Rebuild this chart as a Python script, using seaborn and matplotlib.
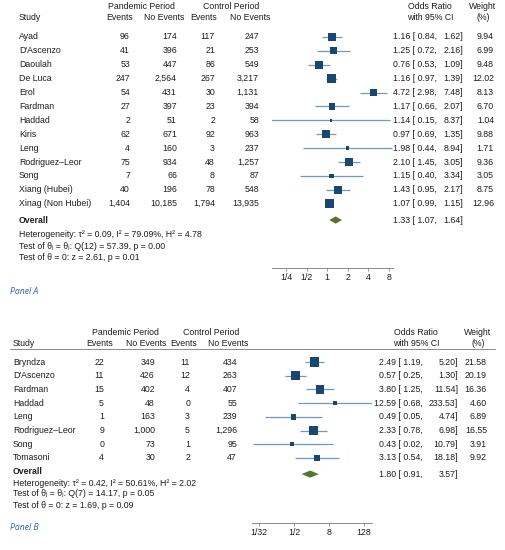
import numpy as np
import matplotlib
matplotlib.use("Agg")
import matplotlib.pyplot as plt
import matplotlib.transforms as mtransforms
import seaborn as sns

# -----------------------------
# Panel A data
# -----------------------------
studies_a = ["Ayad", "D'Ascenzo", "Daoulah", "De Luca", "Erol", "Fardman", "Haddad",
             "Kiris", "Leng", "Rodriguez\u2013Leor", "Song", "Xiang (Hubei)", "Xinag (Non Hubei)"]
pan_ev_a = [96, 41, 53, 247, 54, 27, 2, 62, 4, 75, 7, 40, 1404]
pan_no_a = [174, 396, 447, 2564, 431, 397, 51, 671, 160, 934, 66, 196, 10185]
ctl_ev_a = [117, 21, 86, 267, 30, 23, 2, 92, 3, 48, 8, 78, 1794]
ctl_no_a = [247, 253, 549, 3217, 1131, 394, 58, 963, 237, 1257, 87, 548, 13935]
or_a = [1.16, 1.25, 0.76, 1.16, 4.72, 1.17, 1.14, 0.97, 1.98, 2.10, 1.15, 1.43, 1.07]
lo_a = [0.84, 0.72, 0.53, 0.97, 2.98, 0.66, 0.15, 0.69, 0.44, 1.45, 0.40, 0.95, 0.99]
hi_a = [1.62, 2.16, 1.09, 1.39, 7.48, 2.07, 8.37, 1.35, 8.94, 3.05, 3.34, 2.17, 1.15]
wt_a = [9.94, 6.99, 9.48, 12.02, 8.13, 6.70, 1.04, 9.88, 1.71, 9.36, 3.05, 8.75, 12.96]
overall_a = (1.33, 1.07, 1.64)
stats_a = ["Heterogeneity: \u03c4\u00b2 = 0.09, I\u00b2 = 79.09%, H\u00b2 = 4.78",
           "Test of \u03b8\u1d62 = \u03b8\u2c7c: Q(12) = 57.39, p = 0.00",
           "Test of \u03b8 = 0: z = 2.61, p = 0.01"]
ticks_a = [0.25, 0.5, 1, 2, 4, 8]
ticklabels_a = ["1/4", "1/2", "1", "2", "4", "8"]

# -----------------------------
# Panel B data
# -----------------------------
studies_b = ["Bryndza", "D'Ascenzo", "Fardman", "Haddad", "Leng", "Rodriguez\u2013Leor", "Song", "Tomasoni"]
pan_ev_b = [22, 11, 15, 5, 1, 9, 0, 4]
pan_no_b = [349, 426, 402, 48, 163, 1000, 73, 30]
ctl_ev_b = [11, 12, 4, 0, 3, 5, 1, 2]
ctl_no_b = [434, 263, 407, 55, 239, 1296, 95, 47]
or_b = [2.49, 0.57, 3.80, 12.59, 0.49, 2.33, 0.43, 3.13]
lo_b = [1.19, 0.25, 1.25, 0.68, 0.05, 0.78, 0.02, 0.54]
hi_b = [5.20, 1.30, 11.54, 233.53, 4.74, 6.98, 10.79, 18.18]
wt_b = [21.58, 20.19, 16.36, 4.60, 6.89, 16.55, 3.91, 9.92]
overall_b = (1.80, 0.91, 3.57)
stats_b = ["Heterogeneity: \u03c4\u00b2 = 0.42, I\u00b2 = 50.61%, H\u00b2 = 2.02",
           "Test of \u03b8\u1d62 = \u03b8\u2c7c: Q(7) = 14.17, p = 0.05",
           "Test of \u03b8 = 0: z = 1.69, p = 0.09"]
ticks_b = [1 / 32, 0.5, 8, 128]
ticklabels_b = ["1/32", "1/2", "8", "128"]

# -----------------------------
# Style
# -----------------------------
sns.set_theme(style="white")
plt.rcParams["font.family"] = ["Liberation Sans", "DejaVu Sans"]

SQ = "#1a476f"
CI = "#7098c0"
DIA = "#55752f"
TXT = "#1e1e1e"
FS = 6.3
W, H = 505, 550

fig = plt.figure(figsize=(W / 100, H / 100), dpi=100)


def add_axes_px(x0, x1, y0, y1):
    return fig.add_axes([x0 / W, 1 - y1 / H, (x1 - x0) / W, (y1 - y0) / H])


def forest(ax, or_, lo, hi, wt, overall, ticks, ticklabels, xlim, ylim, dia_y):
    y = np.arange(len(or_))
    ax.hlines(y, lo, hi, color=CI, lw=0.9, zorder=1)
    sizes = 46 * np.array(wt) / max(wt)
    sns.scatterplot(x=or_, y=y, s=sizes, marker="s", color=SQ, edgecolor="none",
                    linewidth=0, ax=ax, zorder=2, legend=False)
    est, olo, ohi = overall
    h = 0.26
    ax.fill([olo, est, ohi, est], [dia_y, dia_y - h, dia_y, dia_y + h], color=DIA, lw=0, zorder=2)
    ax.set_xscale("log", base=2)
    ax.set_xlim(*xlim)
    ax.set_ylim(*ylim)
    ax.set_xticks(ticks)
    ax.set_xticklabels(ticklabels)
    ax.minorticks_off()
    ax.set_yticks([])
    for s in ["top", "left", "right"]:
        ax.spines[s].set_visible(False)
    ax.spines["bottom"].set_color("#8c8c8c")
    ax.spines["bottom"].set_linewidth(0.7)
    ax.tick_params(axis="x", bottom=True, length=2, width=0.6, color="#8c8c8c",
                   labelsize=FS, labelcolor=TXT, pad=1.5)
    ax.patch.set_alpha(0)


def table(ax, studies, pe, pn, ce, cn, or_, lo, hi, wt, overall, stats, cols, hdr_y, stat_y, ov_y, dia_y):
    tr = mtransforms.blended_transform_factory(fig.transFigure, ax.transData)

    def t(x, yy, s, ha="left", **kw):
        ax.text(x / W, yy, s, transform=tr, ha=ha, va="center", fontsize=FS,
                color=TXT, clip_on=False, **kw)

    y = np.arange(len(studies))
    # headers
    t(cols["study"], hdr_y[1], "Study")
    t(cols["pp"], hdr_y[0], "Pandemic Period", ha="center")
    t(cols["cp"], hdr_y[0], "Control Period", ha="center")
    t(cols["pe_h"], hdr_y[1], "Events", ha="right")
    t(cols["pn_h"], hdr_y[1], "No Events", ha="right")
    t(cols["ce_h"], hdr_y[1], "Events", ha="right")
    t(cols["cn_h"], hdr_y[1], "No Events", ha="right")
    t(cols["orh"], hdr_y[0], "Odds Ratio", ha="center")
    t(cols["orh"], hdr_y[1], "with 95% CI", ha="center")
    t(cols["wh"], hdr_y[0], "Weight", ha="center")
    t(cols["wh"], hdr_y[1], "(%)", ha="center")
    for i in range(len(studies)):
        t(cols["study"], y[i], studies[i])
        t(cols["pe"], y[i], f"{pe[i]:,}", ha="right")
        t(cols["pn"], y[i], f"{pn[i]:,}", ha="right")
        t(cols["ce"], y[i], f"{ce[i]:,}", ha="right")
        t(cols["cn"], y[i], f"{cn[i]:,}", ha="right")
        t(cols["or1"], y[i], f"{or_[i]:.2f} [ {lo[i]:.2f},", ha="right")
        t(cols["or2"], y[i], f"{hi[i]:.2f}]", ha="right")
        t(cols["w"], y[i], f"{wt[i]:.2f}", ha="right")
    t(cols["study"], ov_y, "Overall", fontweight="bold")
    t(cols["or1"], dia_y, f"{overall[0]:.2f} [ {overall[1]:.2f},", ha="right")
    t(cols["or2"], dia_y, f"{overall[2]:.2f}]", ha="right")
    for s, yy in zip(stats, stat_y):
        t(cols["study"], yy, s)
    return tr


# -----------------------------
# Panel A
# -----------------------------
axA = add_axes_px(272, 393, 0, 268)
forest(axA, or_a, lo_a, hi_a, wt_a, overall_a, ticks_a, ticklabels_a,
       (2 ** -2.68, 2 ** 3.19), (16.62, -2.66), 13.17)
cols_a = dict(study=19, pp=141, cp=231, pe_h=133, pn_h=184, ce_h=217, cn_h=270,
              pe=130, pn=177, ce=215, cn=259, orh=430, wh=483, or1=437, or2=463, w=494)
table(axA, studies_a, pan_ev_a, pan_no_a, ctl_ev_a, ctl_no_a, or_a, lo_a, hi_a, wt_a,
      overall_a, stats_a, cols_a, (-2.16, -1.37), (14.24, 15.1, 15.9), 13.17, 13.17)
fig.text(10 / W, 1 - 292 / H, "Panel A", fontsize=6.2, style="italic", color="#2f64a8",
         family=["Open Sans", "DejaVu Sans"], va="center")

# -----------------------------
# Panel B
# -----------------------------
axB = add_axes_px(252, 372, 320, 523)
forest(axB, or_b, lo_b, hi_b, wt_b, overall_b, ticks_b, ticklabels_b,
       (2 ** -5.8, 2 ** 7.91), (11.75, -3.07), 8.18)
cols_b = dict(study=13, pp=125, cp=211, pe_h=113, pn_h=166, ce_h=197, cn_h=248,
              pe=104, pn=155, ce=190, cn=237, orh=416, wh=478, or1=423, or2=458, w=487)
trB = table(axB, studies_b, pan_ev_b, pan_no_b, ctl_ev_b, ctl_no_b, or_b, lo_b, hi_b, wt_b,
            overall_b, stats_b, cols_b, (-2.19, -1.39), (8.83, 9.63, 10.44), 7.96, 8.18)
axB.plot([10 / W, 495 / W], [-0.95, -0.95], transform=trB, color="#8c8c8c", lw=0.7, clip_on=False)
fig.text(10 / W, 1 - 527 / H, "Panel B", fontsize=6.2, style="italic", color="#2f64a8",
         family=["Open Sans", "DejaVu Sans"], va="center")

fig.savefig("out.png", dpi=100)
